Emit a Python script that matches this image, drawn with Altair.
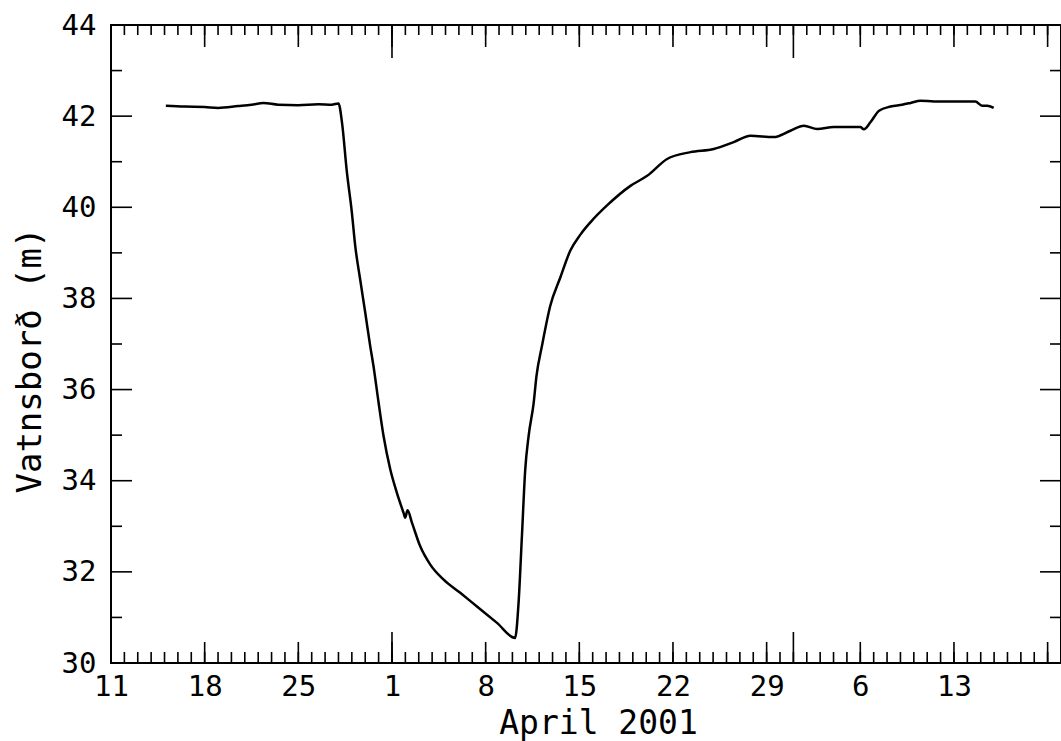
import json
import altair as alt
import pandas as pd

# ---- data (days since 11 March 2001, water level in m) ----
day = [4.1, 5.5, 7.0, 8.0, 9.5, 10.5, 11.4, 12.5, 14.0, 15.5, 16.5, 17.0,
       17.26, 17.63, 18.0, 18.25, 18.62, 19.0, 19.37, 19.6, 20.0, 20.37, 20.87,
       21.36, 21.86, 21.99, 22.16, 22.49, 23.11, 23.86, 24.86, 26.1, 27.35,
       28.85, 30.2,
       30.46, 30.71, 30.96, 31.21, 31.59, 31.8, 32.21, 32.83, 33.58, 34.33,
       35.08, 35.83, 37.07, 38.82, 40.07, 41.56, 43.3, 45.05, 46.54, 47.79,
       49.53, 50.78, 51.78, 52.78, 54.02, 55.0, 56.0, 56.27, 56.77, 57.4,
       58.26, 59.13, 59.76, 60.5, 61.5, 63.0, 64.6, 65.1, 65.48, 65.97]
level = [42.23, 42.21, 42.20, 42.18, 42.22, 42.25, 42.29, 42.25, 42.24, 42.26, 42.25, 42.28,
         41.87, 40.77, 39.89, 39.16, 38.42, 37.69, 36.96, 36.55, 35.71, 34.98, 34.25,
         33.74, 33.30, 33.19, 33.35, 33.08, 32.56, 32.16, 31.83, 31.54, 31.24,
         30.88, 30.55,
         31.32, 32.78, 34.25, 34.98, 35.71, 36.3, 36.96, 37.84, 38.46, 39.05,
         39.40, 39.67, 40.04, 40.47, 40.69, 41.06, 41.21, 41.28, 41.43, 41.57,
         41.54, 41.68, 41.79, 41.72, 41.76, 41.76, 41.76, 41.71, 41.87, 42.12,
         42.21, 42.25, 42.29, 42.34, 42.32, 42.32, 42.32, 42.23, 42.23, 42.18]

x_label_days = [0, 7, 14, 21, 28, 35, 42, 49, 56, 63]
x_labels = ["11", "18", "25", "1", "8", "15", "22", "29", "6", "13"]
x_minor_days = list(range(0, 72))
x_major_days = list(range(0, 72, 7))
x_month_days = [21, 51]
y_major = [30, 32, 34, 36, 38, 40, 42, 44]
y_minor = [31, 33, 35, 37, 39, 41, 43]

W, H = 950, 638
FONT = "DejaVu Sans Mono"

xs = alt.Scale(domain=[0, 71], nice=False, zero=False)
ys = alt.Scale(domain=[30, 44], nice=False, zero=False)

xaxis = alt.Axis(
    values=x_label_days,
    labelExpr=json.dumps(x_labels) + "[round(datum.value/7)]",
    title="April 2001", ticks=False, domain=False, grid=False,
    labelFont=FONT, labelFontSize=29, labelPadding=9, labelFlush=False,
    labelColor="black",
    titleFont=FONT, titleFontSize=33, titleFontWeight="normal", titleColor="black",
    titleX=487, titleY=70, titleBaseline="alphabetic", titleAlign="center")
yaxis = alt.Axis(
    values=y_major, title="Vatnsborð (m)", ticks=False, domain=False, grid=False,
    labelFont=FONT, labelFontSize=29, labelPadding=15, labelColor="black",
    titleFont=FONT, titleFontSize=34, titleFontWeight="normal", titleColor="black",
    titleX=-71, titleY=335, titleBaseline="alphabetic", titleAlign="center",
    titleAngle=270)

df = pd.DataFrame({"day": day, "level": level})

line = alt.Chart(df).mark_line(color="black", strokeWidth=2.5, interpolate="monotone").encode(
    x=alt.X("day:Q", scale=xs, axis=xaxis),
    y=alt.Y("level:Q", scale=ys, axis=yaxis),
)


def xticks(days, y0, y1):
    return alt.Chart(pd.DataFrame({"day": days})).mark_rule(color="black", strokeWidth=1.6).encode(
        x=alt.X("day:Q", scale=xs, axis=xaxis), y=alt.value(y0), y2=alt.value(y1))


def yticks(vals, x0, x1):
    return alt.Chart(pd.DataFrame({"level": vals})).mark_rule(color="black", strokeWidth=1.6).encode(
        y=alt.Y("level:Q", scale=ys, axis=yaxis), x=alt.value(x0), x2=alt.value(x1))


layers = [
    line,
    xticks(x_minor_days, H, H - 11), xticks(x_major_days, H, H - 21), xticks(x_month_days, H, H - 31),
    xticks(x_minor_days, 0, 10), xticks(x_major_days, 0, 22), xticks(x_month_days, 0, 33),
    yticks(y_minor, 0, 11), yticks(y_major, 0, 21),
    yticks(y_minor, W, W - 11), yticks(y_major, W, W - 21),
]

chart = alt.layer(*layers).properties(
    width=W, height=H,
    padding={"left": 111, "top": 25, "right": 0, "bottom": 78},
    autosize=alt.AutoSizeParams(type="none"),
    background="white",
).configure_view(stroke="black", strokeWidth=2)

chart.save("out.html", embed_options={"renderer": "svg", "actions": False})
